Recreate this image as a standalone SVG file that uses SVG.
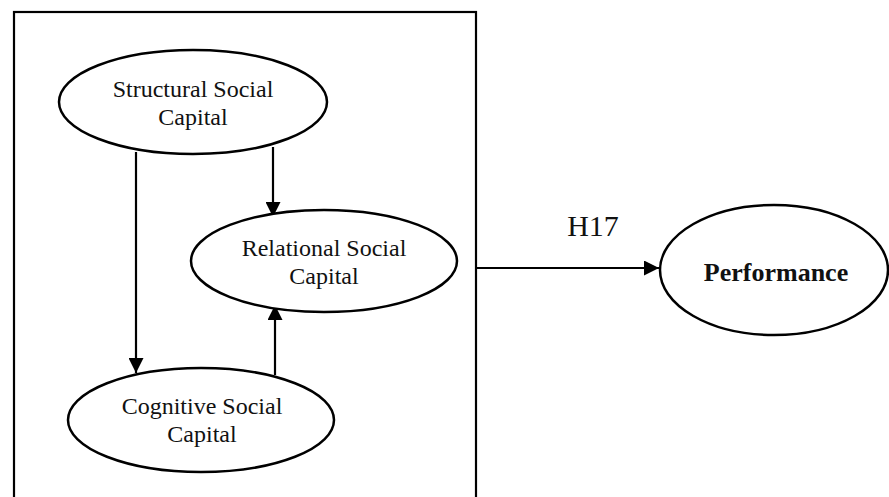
<svg xmlns="http://www.w3.org/2000/svg" width="889" height="497" viewBox="0 0 889 497">
<style>
.n{fill:#fff;stroke:#000;stroke-width:2.5}
.t{font-family:"Liberation Serif","Times New Roman",serif;font-size:24px;fill:#111;text-anchor:middle}
.b{font-weight:bold;font-size:26px}
.c{stroke:#000;stroke-width:2.2;fill:none}
</style>
<defs>
<marker id="ah" viewBox="0 0 10 10" refX="10" refY="5" markerWidth="16" markerHeight="15" markerUnits="userSpaceOnUse" orient="auto">
<path d="M0,0 L10,5 L0,10 Z" fill="#000"/>
</marker>
</defs>
<rect id="box" x="14" y="12" width="462" height="500" fill="none" stroke="#000" stroke-width="2.2"/>
<g id="connectors">
<line class="c" x1="273" y1="147" x2="273" y2="217" marker-end="url(#ah)"/>
<line class="c" x1="136" y1="152" x2="136" y2="373" marker-end="url(#ah)"/>
<line class="c" x1="275" y1="375" x2="275" y2="305" marker-end="url(#ah)"/>
<line class="c" x1="476" y1="268" x2="659" y2="268" marker-end="url(#ah)"/>
<text class="t" x="593" y="236" style="font-size:30px">H17</text>
</g>
<g id="structural">
<ellipse class="n" cx="193" cy="102" rx="134" ry="52"/>
<text class="t" x="193" y="97">Structural Social</text>
<text class="t" x="193" y="125">Capital</text>
</g>
<g id="relational">
<ellipse class="n" cx="324" cy="261" rx="133" ry="51"/>
<text class="t" x="324" y="256">Relational Social</text>
<text class="t" x="324" y="284">Capital</text>
</g>
<g id="cognitive">
<ellipse class="n" cx="201" cy="420" rx="133" ry="52"/>
<text class="t" x="202" y="414">Cognitive Social</text>
<text class="t" x="202" y="442">Capital</text>
</g>
<g id="performance">
<ellipse class="n" cx="774" cy="270" rx="114" ry="65"/>
<text class="t b" x="776" y="281">Performance</text>
</g>
</svg>
